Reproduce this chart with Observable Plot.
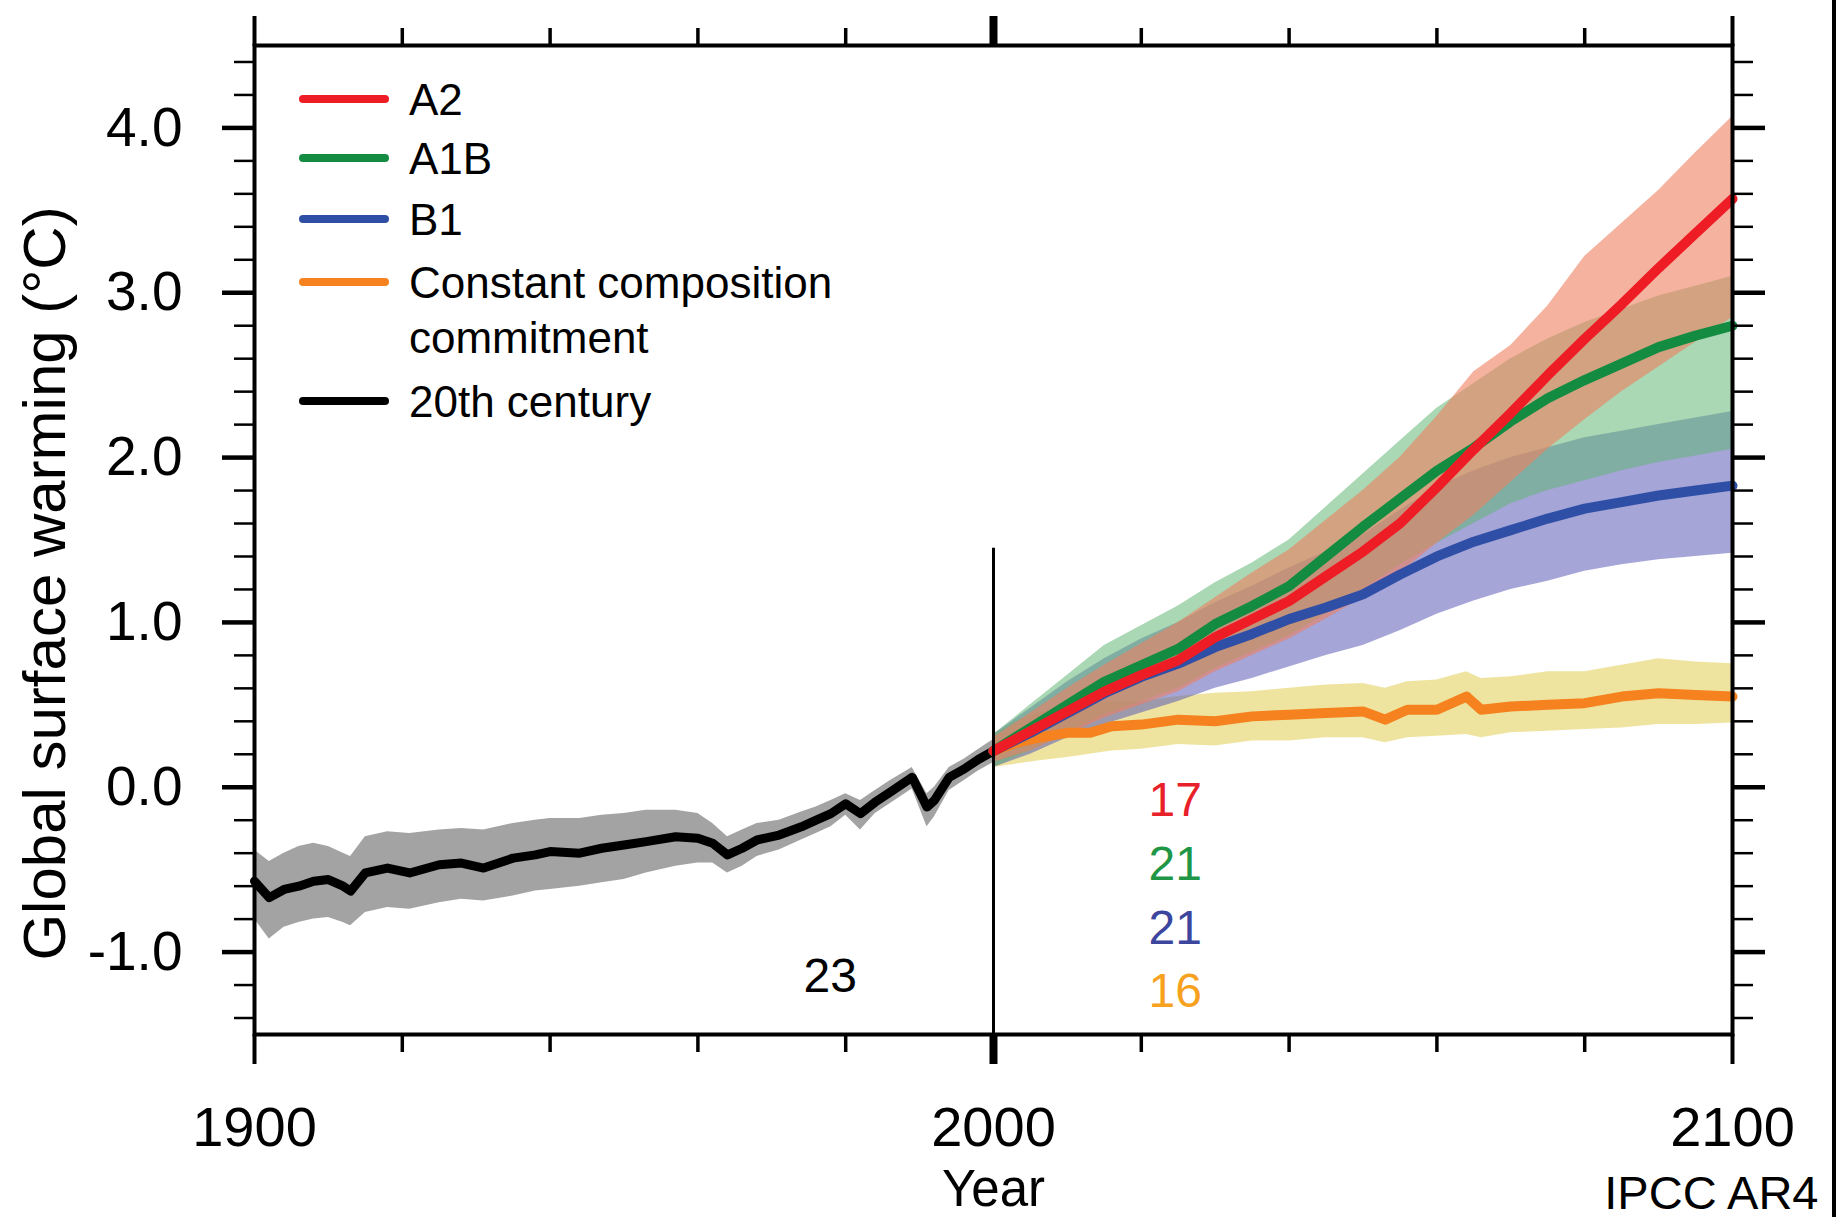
<!DOCTYPE html>
<html><head><meta charset="utf-8">
<script src="https://cdn.jsdelivr.net/npm/d3@7"></script>
<script src="https://cdn.jsdelivr.net/npm/@observablehq/plot@0.6"></script>
<style>
html,body{margin:0;padding:0;background:#fff;}
#wrap{position:relative;width:1839px;height:1217px;overflow:hidden;font-family:"Liberation Sans",Arial,Helvetica,sans-serif;}
#wrap svg{position:absolute;left:0;top:0;}
.lg{position:absolute;font-size:44px;line-height:55px;color:#000;white-space:nowrap;}
.sw{position:absolute;height:8px;border-radius:4px;width:90px;}
#edge{position:absolute;left:1832px;top:0;width:4px;height:1217px;background:#000;}
</style></head><body><div id="wrap"></div>
<script>
// ---- 20th century (multi-model mean and spread) ----
const years20 = [1900,1902,1904,1906,1908,1910,1912,1913,1915,1918,1921,1925,1928,1931,1935,1938,1940,1944,1947,1950,1953,1957,1960,1962,1964,1966,1968,1971,1974,1976,1978,1980,1982,1984,1986,1989,1991,1992,1994,1996,1998,2000];
const mean20  = [-0.57,-0.67,-0.62,-0.60,-0.57,-0.56,-0.60,-0.63,-0.52,-0.49,-0.52,-0.47,-0.46,-0.49,-0.43,-0.41,-0.39,-0.40,-0.37,-0.35,-0.33,-0.30,-0.31,-0.34,-0.41,-0.37,-0.32,-0.29,-0.24,-0.20,-0.16,-0.10,-0.16,-0.09,-0.03,0.06,-0.12,-0.08,0.06,0.11,0.17,0.22];
const lo20    = [-0.80,-0.92,-0.85,-0.82,-0.80,-0.79,-0.82,-0.84,-0.76,-0.73,-0.74,-0.70,-0.68,-0.69,-0.66,-0.63,-0.62,-0.60,-0.58,-0.56,-0.52,-0.48,-0.46,-0.46,-0.52,-0.48,-0.42,-0.38,-0.32,-0.28,-0.24,-0.17,-0.26,-0.16,-0.10,-0.01,-0.24,-0.18,-0.02,0.04,0.10,0.15];
const hi20    = [-0.38,-0.45,-0.40,-0.36,-0.34,-0.36,-0.40,-0.42,-0.30,-0.27,-0.28,-0.26,-0.25,-0.26,-0.22,-0.20,-0.19,-0.19,-0.17,-0.16,-0.14,-0.14,-0.16,-0.22,-0.30,-0.26,-0.22,-0.20,-0.15,-0.12,-0.08,-0.04,-0.08,-0.02,0.04,0.12,-0.04,0.00,0.12,0.17,0.23,0.29];

// ---- 21st century scenarios ----
const projYears = [2000,2005,2010,2015,2020,2025,2030,2035,2040,2045,2050,2055,2060,2065,2070,2075,2080,2085,2090,2095,2100];
const a2Mean  = [0.22,0.34,0.46,0.58,0.68,0.77,0.91,1.02,1.13,1.28,1.43,1.60,1.82,2.05,2.27,2.50,2.72,2.93,3.15,3.36,3.57];
const a2Lo    = [0.15,0.22,0.32,0.42,0.50,0.58,0.70,0.80,0.90,1.02,1.15,1.30,1.48,1.65,1.85,2.05,2.23,2.40,2.55,2.70,2.85];
const a2Hi    = [0.30,0.45,0.60,0.74,0.87,1.00,1.15,1.30,1.44,1.62,1.80,2.00,2.25,2.52,2.68,2.92,3.22,3.42,3.62,3.85,4.07];
const a1bMean = [0.22,0.36,0.50,0.64,0.74,0.84,0.99,1.10,1.22,1.40,1.58,1.75,1.92,2.06,2.22,2.36,2.47,2.57,2.67,2.74,2.80];
const a1bLo   = [0.12,0.22,0.33,0.44,0.52,0.60,0.72,0.82,0.92,1.05,1.20,1.35,1.48,1.60,1.72,1.80,1.86,1.92,1.97,2.01,2.05];
const a1bHi   = [0.32,0.50,0.68,0.86,0.98,1.10,1.24,1.36,1.50,1.70,1.90,2.10,2.30,2.45,2.60,2.72,2.82,2.90,2.98,3.04,3.10];
const b1Mean  = [0.22,0.33,0.45,0.57,0.67,0.75,0.85,0.93,1.02,1.09,1.17,1.29,1.40,1.49,1.56,1.63,1.69,1.73,1.77,1.80,1.83];
const b1Lo    = [0.12,0.20,0.30,0.38,0.45,0.52,0.60,0.66,0.73,0.80,0.86,0.95,1.05,1.13,1.20,1.25,1.31,1.35,1.38,1.40,1.42];
const b1Hi    = [0.32,0.48,0.64,0.78,0.90,1.00,1.12,1.22,1.33,1.43,1.53,1.68,1.82,1.92,2.00,2.06,2.12,2.16,2.20,2.24,2.28];
const commitYears = [2000,2003,2006,2010,2013,2016,2020,2025,2030,2035,2040,2045,2050,2053,2056,2060,2064,2066,2070,2075,2080,2085,2090,2095,2100];
const commitMean  = [0.22,0.27,0.30,0.33,0.33,0.37,0.38,0.41,0.40,0.43,0.44,0.45,0.46,0.41,0.47,0.47,0.55,0.47,0.49,0.50,0.51,0.55,0.57,0.56,0.55];
const commitLo    = [0.12,0.14,0.16,0.18,0.20,0.22,0.23,0.26,0.25,0.28,0.28,0.30,0.30,0.27,0.30,0.31,0.32,0.30,0.33,0.34,0.35,0.36,0.38,0.38,0.39];
const commitHi    = [0.32,0.40,0.45,0.48,0.50,0.52,0.52,0.55,0.57,0.58,0.60,0.62,0.63,0.60,0.64,0.65,0.70,0.66,0.67,0.70,0.70,0.74,0.78,0.76,0.75];

// ---- axes ----
const xMajorTicks = [1900, 2000, 2100];
const xMinorTicks = [1920, 1940, 1960, 1980, 2020, 2040, 2060, 2080];
const yMajorTicks = [-1, 0, 1, 2, 3, 4];
const yMinorTicks = [-1.4,-1.2,-0.8,-0.6,-0.4,-0.2,0.2,0.4,0.6,0.8,1.2,1.4,1.6,1.8,2.2,2.4,2.6,2.8,3.2,3.4,3.6,3.8,4.2,4.4];

// ---- model counts ----
const countLabels = ["17","21","21","16","23"];
const countYears  = [2024.6,2024.6,2024.6,2024.6,1977.9];
const countValues = [-0.08,-0.47,-0.86,-1.24,-1.15];
const countColors = ["#e8202a","#1e9646","#3c469e","#f7a21e","#000000"];

// ---- legend ----
const legendLabels = ["A2","A1B","B1","Constant composition\ncommitment","20th century"];
const legendColors = ["#ee1c25","#138c42","#2f4fa6","#f5821f","#000000"];

const rows = (ys, m, lo, hi) => ys.map((year, i) => ({year, mean: m[i], lo: lo[i], hi: hi[i]}));
const r20 = rows(years20, mean20, lo20, hi20);
const rA2 = rows(projYears, a2Mean, a2Lo, a2Hi);
const rA1B = rows(projYears, a1bMean, a1bLo, a1bHi);
const rB1 = rows(projYears, b1Mean, b1Lo, b1Hi);
const rC = rows(commitYears, commitMean, commitLo, commitHi);
const counts = countLabels.map((label, i) => ({label, year: countYears[i], value: countValues[i], color: countColors[i]}));
const divider = [{year: 2000, y1: -1.5, y2: 1.45}];

const band = (data, fill, op) => Plot.areaY(data, {x: "year", y1: "lo", y2: "hi", fill, fillOpacity: op});
const line = (data, stroke, w) => Plot.line(data, {x: "year", y: "mean", stroke, strokeWidth: w, strokeLinejoin: "round"});

const chart = Plot.plot({
  width: 1839, height: 1217,
  marginTop: 45, marginBottom: 183, marginLeft: 254, marginRight: 107,
  x: {domain: [1900, 2100], label: null},
  y: {domain: [-1.5, 4.5], label: null},
  style: {fontFamily: '"Liberation Sans",Arial,Helvetica,sans-serif', color: "#000", background: "transparent", overflow: "visible"},
  marks: [
    band(r20, "#a3a3a3", 1),
    line(r20, "#000", 9),
    band(rC, "#e0ce52", 0.55),
    band(rB1, "#5b5bb6", 0.55),
    band(rA1B, "#64b676", 0.55),
    band(rA2, "#ee7f5f", 0.6),
    line(rC, "#f5821f", 10),
    line(rB1, "#2f4fa6", 10),
    line(rA1B, "#138c42", 10),
    line(rA2, "#ee1c25", 10),
    Plot.ruleX(divider, {x: "year", y1: "y1", y2: "y2", stroke: "#000", strokeWidth: 3}),
    Plot.frame({stroke: "#000", strokeWidth: 4}),
    // tick marks
    Plot.axisX({ticks: xMinorTicks, anchor: "bottom", tickSize: 18, strokeWidth: 3.5, fill: "none", label: null}),
    Plot.axisX({ticks: xMinorTicks, anchor: "top", tickSize: 18, strokeWidth: 3.5, fill: "none", label: null}),
    Plot.axisX({ticks: [1900, 2100], anchor: "bottom", tickSize: 30, strokeWidth: 4, fill: "none", label: null}),
    Plot.axisX({ticks: [1900, 2100], anchor: "top", tickSize: 30, strokeWidth: 4, fill: "none", label: null}),
    Plot.axisX({ticks: [2000], anchor: "bottom", tickSize: 30, strokeWidth: 8, fill: "none", label: null}),
    Plot.axisX({ticks: [2000], anchor: "top", tickSize: 30, strokeWidth: 8, fill: "none", label: null}),
    Plot.axisX({ticks: xMajorTicks, anchor: "bottom", stroke: "none", tickSize: 0, tickPadding: 72, fontSize: 56, tickFormat: d => String(d), label: null}),
    Plot.axisY({ticks: yMinorTicks, anchor: "left", tickSize: 20, strokeWidth: 2.5, fill: "none", label: null}),
    Plot.axisY({ticks: yMinorTicks, anchor: "right", tickSize: 20, strokeWidth: 2.5, fill: "none", label: null}),
    Plot.axisY({ticks: yMajorTicks, anchor: "left", tickSize: 32, strokeWidth: 4.5, fill: "none", label: null}),
    Plot.axisY({ticks: yMajorTicks, anchor: "right", tickSize: 32, strokeWidth: 4.5, fill: "none", label: null}),
    Plot.axisY({ticks: yMajorTicks, anchor: "left", stroke: "none", tickSize: 0, tickPadding: 72, fontSize: 55, tickFormat: d => d.toFixed(1), label: null}),
    // titles
    Plot.text(["Year"], {text: d => d, x: () => 2000, frameAnchor: "bottom", dy: 135, lineAnchor: "top", fontSize: 51}),
    Plot.text(["Global surface warming (°C)"], {text: d => d, frameAnchor: "left", rotate: -90, dx: -190, dy: 43.5, lineAnchor: "bottom", textAnchor: "middle", fontSize: 60}),
    Plot.text(["IPCC AR4"], {text: d => d, frameAnchor: "bottom-right", dx: 86, dy: 174, lineAnchor: "bottom", textAnchor: "end", fontSize: 47}),
    // model counts
    ...counts.map(c => Plot.text([c], {x: "year", y: "value", text: "label", fill: c.color, fontSize: 48, textAnchor: "middle", lineAnchor: "middle"}))
  ]
});

const wrap = document.getElementById("wrap");
wrap.appendChild(chart);

// legend overlay
const swCenters = [98.5, 158.3, 219.3, 281.5, 401];
legendLabels.forEach((lab, i) => {
  const sw = document.createElement("div");
  sw.className = "sw";
  sw.style.left = "299px";
  sw.style.top = (swCenters[i] - 4) + "px";
  sw.style.background = legendColors[i];
  wrap.appendChild(sw);
  const t = document.createElement("div");
  t.className = "lg";
  t.style.left = "409px";
  t.style.top = (swCenters[i] - 27) + "px";
  t.innerHTML = lab.split("\n").join("<br>");
  wrap.appendChild(t);
});
const edge = document.createElement("div");
edge.id = "edge";
wrap.appendChild(edge);
</script></body></html>
